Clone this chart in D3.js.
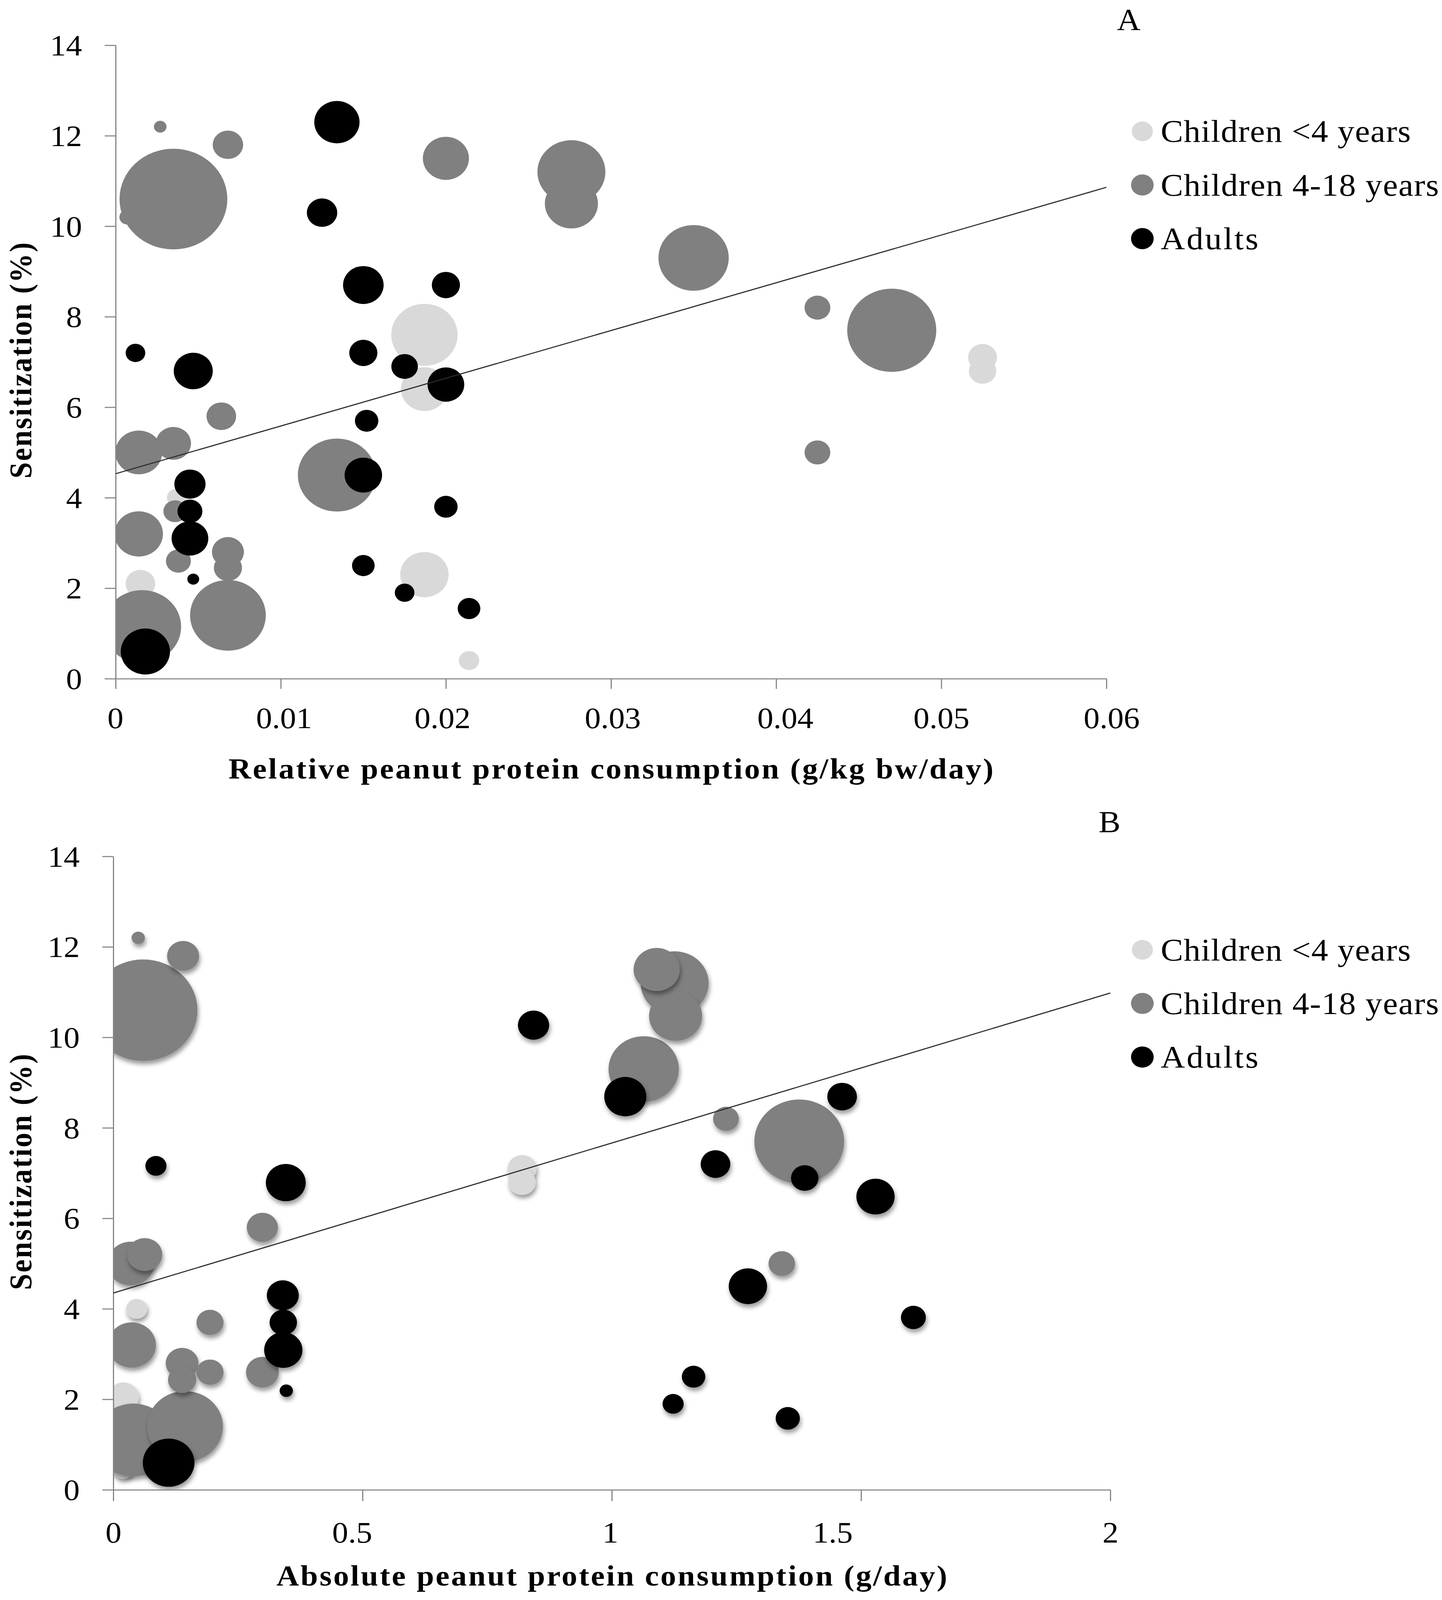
<!DOCTYPE html>
<html><head><meta charset="utf-8">
<script src="https://cdn.jsdelivr.net/npm/d3@7"></script>
<style>html,body{margin:0;padding:0;background:#fff;overflow:hidden;width:100%;height:100%}svg{display:block}</style>
</head><body>
<script>
// ---------- DATA ----------
const seriesNames = ["Children <4 years", "Children 4-18 years", "Adults"];
const yTicks = [0, 2, 4, 6, 8, 10, 12, 14];
const yTickLabels = ["0", "2", "4", "6", "8", "10", "12", "14"];
const xTicksA = [0, 0.01, 0.02, 0.03, 0.04, 0.05, 0.06];
const xTickLabelsA = ["0", "0.01", "0.02", "0.03", "0.04", "0.05", "0.06"];
const xTicksB = [0, 0.5, 1, 1.5, 2];
const xTickLabelsB = ["0", "0.5", "1", "1.5", "2"];

// [consumption, sensitization %, bubble size]
const under4A = [
  [0.0187, 7.6, 72.3], [0.0187, 6.4, 36.0], [0.0525, 7.1, 13.7], [0.0525, 6.8, 12.3],
  [0.0037, 4.0, 6.3], [0.0015, 2.1, 14.4], [0.0187, 2.3, 38.4], [0.0214, 0.4, 6.8]
];
const age4to18A = [
  [0.0027, 12.2, 2.6], [0.0068, 11.8, 15.2], [0.0035, 10.6, 190.4], [0.0007, 10.2, 4.0],
  [0.0200, 11.5, 34.8], [0.0276, 11.2, 75.7], [0.0276, 10.5, 46.2], [0.0350, 9.3, 81.0],
  [0.0425, 8.2, 10.9], [0.0470, 7.7, 130.0], [0.0064, 5.8, 14.4], [0.0014, 5.0, 36.0],
  [0.0035, 5.2, 20.3], [0.0134, 4.5, 100.0], [0.0036, 3.7, 9.0], [0.0014, 3.2, 38.4],
  [0.0038, 2.6, 10.2], [0.0068, 2.8, 16.8], [0.0068, 2.45, 13.0], [0.0016, 1.15, 100.0],
  [0.0068, 1.4, 94.0], [0.0425, 5.0, 10.9]
];
const adultsA = [
  [0.0134, 12.3, 33.6], [0.0125, 10.3, 15.2], [0.0150, 8.7, 27.0], [0.0200, 8.7, 13.0],
  [0.0012, 7.2, 6.3], [0.0047, 6.8, 25.0], [0.0150, 7.2, 13.0], [0.0175, 6.9, 11.6],
  [0.0200, 6.5, 22.1], [0.0152, 5.7, 9.0], [0.0045, 4.3, 16.0], [0.0045, 3.7, 10.2],
  [0.0045, 3.1, 22.1], [0.0150, 4.5, 23.0], [0.0047, 2.2, 2.3], [0.0018, 0.6, 39.7],
  [0.0150, 2.5, 8.4], [0.0200, 3.8, 9.0], [0.0175, 1.9, 6.3], [0.0214, 1.55, 8.4]
];
const under4B = [
  [0.82, 7.1, 13.7], [0.82, 6.8, 12.3], [0.047, 4.0, 7.3], [0.02, 2.05, 16.0], [0.02, 0.45, 6.8]
];
const age4to18B = [
  [0.050, 12.2, 2.9], [0.140, 11.8, 16.8], [0.060, 10.6, 193.0], [1.090, 11.5, 34.8],
  [1.126, 11.2, 75.7], [1.128, 10.47, 46.2], [1.064, 9.3, 81.0], [1.229, 8.2, 10.9],
  [1.376, 7.7, 132.0], [0.299, 5.8, 16.0], [0.035, 5.0, 36.0], [0.063, 5.2, 20.3],
  [0.194, 3.7, 12.0], [0.037, 3.2, 38.4], [0.138, 2.8, 17.6], [0.138, 2.43, 13.0],
  [0.194, 2.6, 12.0], [0.299, 2.6, 17.6], [0.040, 1.1, 100.0], [0.144, 1.4, 94.0],
  [1.341, 5.0, 11.6]
];
const adultsB = [
  [0.843, 10.27, 16.0], [0.0855, 7.16, 7.3], [0.346, 6.79, 26.0], [1.027, 8.69, 29.0],
  [1.462, 8.69, 14.4], [1.208, 7.2, 14.4], [1.387, 6.89, 12.3], [1.529, 6.48, 24.0],
  [0.340, 4.3, 16.8], [0.341, 3.7, 12.3], [0.341, 3.09, 24.0], [0.347, 2.19, 2.9],
  [0.111, 0.6, 43.6], [1.273, 4.5, 24.0], [1.605, 3.81, 10.2], [1.164, 2.5, 9.0],
  [1.123, 1.9, 7.3], [1.353, 1.58, 9.6]
];
const trendA = [[0, 4.53], [0.06, 10.86]];
const trendB = [[0, 4.35], [2, 10.98]];

// ---------- STYLE / LAYOUT ----------
const W = 3691, H = 4385;
const colors = ["#d9d9d9", "#808080", "#000000"];
const serif = "'Liberation Serif','Times New Roman',serif";
const sizeScale = d3.scaleSqrt().domain([0, 100]).range([0, 100]);

const svg = d3.select("body").append("svg")
  .attr("viewBox", `0 0 ${W} ${H}`)
  .attr("preserveAspectRatio", "none")
  .style("width", "100vw").style("height", "100vh")
  .style("background", "#fff");
const defs = svg.append("defs");
defs.append("filter").attr("id", "shadow").attr("x", "-50%").attr("y", "-50%")
  .attr("width", "200%").attr("height", "200%")
  .append("feDropShadow").attr("dx", 3).attr("dy", 9).attr("stdDeviation", 6)
  .attr("flood-color", "#000").attr("flood-opacity", 0.4);

function panel(cfg) {
  const x = d3.scaleLinear().domain(cfg.xDomain).range([cfg.left, cfg.right]);
  const y = d3.scaleLinear().domain([0, 14]).range([cfg.bottom, cfg.top]);
  const g = svg.append("g");

  defs.append("clipPath").attr("id", "clip" + cfg.id).append("rect")
    .attr("x", cfg.left).attr("y", cfg.top - 10)
    .attr("width", cfg.right - cfg.left + 10).attr("height", cfg.bottom - cfg.top + 10);

  const bub = g.append("g").attr("clip-path", "url(#clip" + cfg.id + ")");
  cfg.series.forEach((s, i) => {
    const sorted = s.slice().sort((a, b) => b[2] - a[2]);
    bub.append("g").selectAll("circle").data(sorted).join("circle")
      .attr("cx", d => x(d[0])).attr("cy", d => y(d[1]))
      .attr("r", d => sizeScale(d[2]))
      .attr("fill", colors[i])
      .attr("filter", cfg.shadow ? "url(#shadow)" : null);
  });

  // y axis
  const ya = g.append("g").attr("transform", `translate(${cfg.left},0)`)
    .call(d3.axisLeft(y).tickValues(yTicks).tickFormat((d, i) => yTickLabels[i])
      .tickSize(28).tickSizeOuter(0).tickPadding(58));
  // x axis
  const xa = g.append("g").attr("transform", `translate(0,${cfg.bottom})`)
    .call(d3.axisBottom(x).tickValues(cfg.xTicks).tickFormat((d, i) => cfg.xLabels[i])
      .tickSize(cfg.xTickLen).tickSizeOuter(0));
  [ya, xa].forEach(a => {
    a.select(".domain").attr("stroke", "#868686").attr("stroke-width", 3);
    a.selectAll(".tick line").attr("stroke", "#868686").attr("stroke-width", 3);
    a.selectAll(".tick text").attr("font-family", serif).attr("font-size", 82).attr("fill", "#000");
  });
  ya.selectAll(".tick text").attr("dy", "0.34em");
  xa.selectAll(".tick text").attr("y", cfg.xLabelY).attr("dy", 0)
    .attr("dx", (d, i) => cfg.xNudge[i]);

  // trend line
  g.append("line")
    .attr("x1", x(cfg.trend[0][0])).attr("y1", y(cfg.trend[0][1]))
    .attr("x2", x(cfg.trend[1][0])).attr("y2", y(cfg.trend[1][1]))
    .attr("stroke", "#2b2b2b").attr("stroke-width", 3);

  // axis titles
  g.append("text").attr("x", (cfg.left + cfg.right) / 2).attr("y", cfg.xTitleY)
    .attr("text-anchor", "middle").attr("font-family", serif).attr("font-weight", "bold")
    .attr("font-size", 80).attr("textLength", cfg.xTitleLen).attr("lengthAdjust", "spacing")
    .text(cfg.xTitle);
  g.append("text").attr("transform", `translate(80,${cfg.yTitleC}) rotate(-90)`)
    .attr("text-anchor", "middle").attr("font-family", serif).attr("font-weight", "bold")
    .attr("font-size", 80).attr("textLength", 647).attr("lengthAdjust", "spacing")
    .text("Sensitization (%)");

  // panel letter
  g.append("text").attr("x", cfg.letterX).attr("y", cfg.letterY).attr("text-anchor", "middle")
    .attr("font-family", serif).attr("font-size", 84).text(cfg.id);

  // legend
  const legLens = [640, 712, 250];
  const leg = g.append("g");
  seriesNames.forEach((n, i) => {
    const ly = cfg.legendY + i * 147;
    leg.append("circle").attr("cx", 2924).attr("cy", ly).attr("r", i === 0 ? 27 : 29)
      .attr("fill", colors[i]);
    leg.append("text").attr("x", 2971).attr("y", ly + 29).attr("font-family", serif)
      .attr("font-size", 86).attr("textLength", legLens[i]).attr("lengthAdjust", "spacing")
      .text(n);
  });
}

panel({
  id: "A", xDomain: [0, 0.06], left: 296, right: 2832, top: 124, bottom: 1860,
  series: [under4A, age4to18A, adultsA], shadow: false,
  xTicks: xTicksA, xLabels: xTickLabelsA, xTickLen: 28, xLabelY: 135,
  xNudge: [-1, 8, -9, 4, 23, 0, 13],
  trend: trendA,
  xTitle: "Relative peanut protein consumption (g/kg bw/day)", xTitleY: 2134, xTitleLen: 1958,
  yTitleC: 988, letterX: 2889, letterY: 81, legendY: 360
});
panel({
  id: "B", xDomain: [0, 2], left: 290, right: 2842, top: 2347, bottom: 4083,
  series: [under4B, age4to18B, adultsB], shadow: true,
  xTicks: xTicksB, xLabels: xTickLabelsB, xTickLen: 31, xLabelY: 145,
  xNudge: [0, -27, -4, -73, 0],
  trend: trendB,
  xTitle: "Absolute peanut protein consumption (g/day)", xTitleY: 4345, xTitleLen: 1717,
  yTitleC: 3212, letterX: 2840, letterY: 2280, legendY: 2603
});
</script>
</body></html>
